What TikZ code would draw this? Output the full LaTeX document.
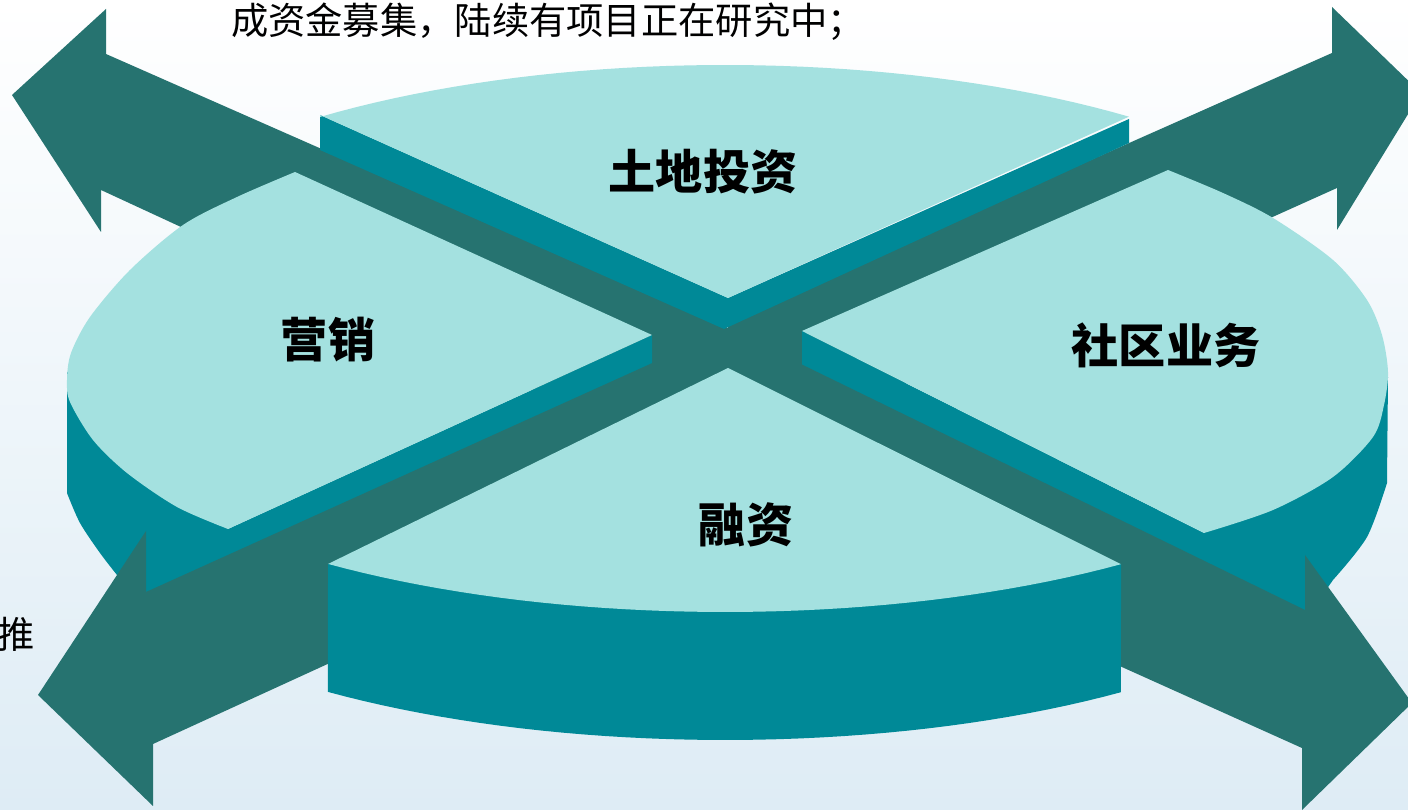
\documentclass[tikz,border=0pt]{standalone}
\usepackage{fontspec}
\newfontfamily\cjk{Noto Sans CJK SC}
\usepackage{xcolor}
\usetikzlibrary{math}

\definecolor{arrowteal}{RGB}{38,115,112}
\definecolor{facecyan}{RGB}{164,225,224}
\definecolor{sideteal}{RGB}{0,137,151}
\definecolor{bgblue}{RGB}{222,236,245}
\definecolor{bgmid}{RGB}{236,241,247}

\begin{document}
\begin{tikzpicture}[x=0.01cm,y=-0.01cm,
  sectorlabel/.style={font=\cjk\bfseries\fontsize{13.4pt}{16pt}\selectfont, text=black, inner sep=0pt},
  toptext/.style={font=\cjk\fontsize{10.6pt}{12pt}\selectfont, text=black, inner sep=0pt}]
\tikzmath{
\rx=660;
\depth=128;
}
\useasboundingbox (0,0) rectangle (1408,810);
\clip (0,0) rectangle (1408,810);
\shade[top color=white, middle color=bgmid, bottom color=bgblue] (0,0) rectangle (1408,810);

% back arms of the cross
\fill[color=arrowteal] (12,95) -- (106,9) -- (106,54) -- (728,328) -- (728,480) -- (101,190) -- (101,232) -- cycle;
\fill[color=arrowteal] (1421,93) -- (1332,7) -- (1332,53) -- (728,321) -- (728,462) -- (1337,188) -- (1337,230) -- cycle;

% top sector
\fill[color=sideteal] (320,115) -- (320,150) -- (724,329) -- (1129,143) -- (1129,119) -- (728,298) -- cycle;
\fill[color=facecyan] (728,298) -- (320,115) -- plot[domain=127.85:52.26, samples=40] ({725+\rx*cos(\x)},{312-247*sin(\x)}) -- cycle;

% left sector
\fill[color=sideteal] (652,335) -- (652,370) -- (150,600) -- plot[smooth] coordinates {(117,575) (100,553) (80,523) (67,493)} -- (67,372) -- (228,529) -- cycle;
\fill[color=facecyan] (295,172) -- (652,335) -- (228,529) -- plot[smooth] coordinates {(228,529) (177,507) (127,473) (93,440) (70,402) (67,380) (71,353) (90,317) (130,270) (183,225) (237,197) (295,172)} -- cycle;

% right sector
\fill[color=sideteal] (802,331) -- (802,370) -- (1305,620) -- plot[smooth] coordinates {(1333,580) (1367,537) (1387,483)} -- (1388,377) -- (1204,533) -- cycle;
\fill[color=facecyan] (802,331) -- (1168,170) -- plot[smooth] coordinates {(1168,170) (1223,193) (1273,218) (1333,260) (1367,300) (1382,335) (1388,372) (1384,405) (1373,437) (1333,477) (1273,510) (1204,533)} -- cycle;

% front arms of the cross
\fill[color=arrowteal] (690,346) -- (146,592) -- (146,531) -- (38,695) -- (153,806) -- (153,744) -- (690,498) -- cycle;
\fill[color=arrowteal] (766,347) -- (1305,610) -- (1305,555) -- (1412,703) -- (1302,810) -- (1302,748) -- (766,507) -- cycle;

% bottom sector
\fill[color=sideteal] (328,564) -- plot[domain=126.98:53.13, samples=40] ({725+\rx*cos(\x)},{373+\depth+239*sin(\x)}) -- (1121,564) -- cycle;
\fill[color=facecyan] (728,368) -- (328,564) -- plot[domain=126.98:53.13, samples=40] ({725+\rx*cos(\x)},{373+239*sin(\x)}) -- cycle;

\node[sectorlabel] (land) at (703,172) {土地投资};
\node[sectorlabel] (sales) at (328,340) {营销};
\node[sectorlabel] (community) at (1166,345) {社区业务};
\node[sectorlabel] (finance) at (746,525) {融资};

\node[toptext] (fund) at (548,22) {成资金募集，陆续有项目正在研究中；};
\node[toptext] (push) at (16,634) {推};
\end{tikzpicture}
\end{document}
